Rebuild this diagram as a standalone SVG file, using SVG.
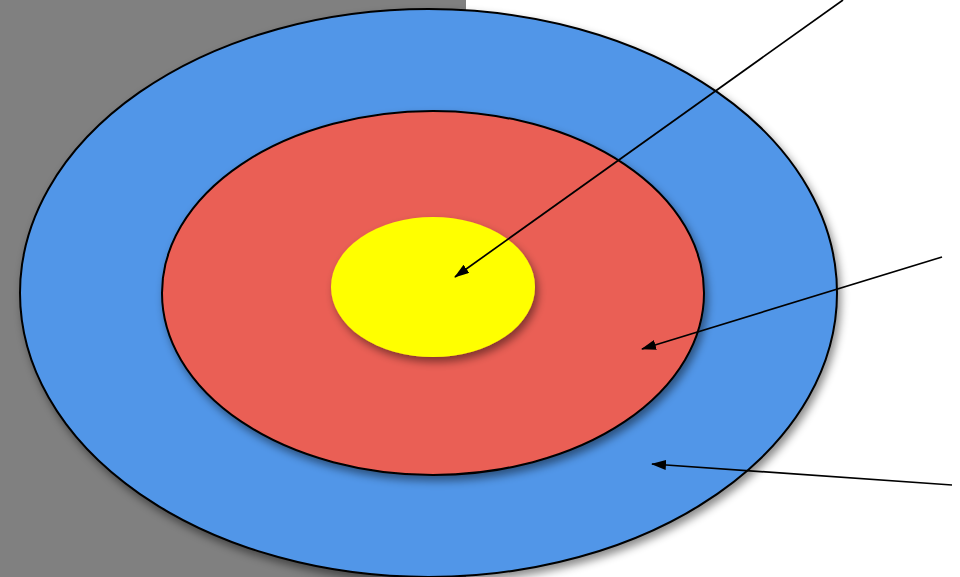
<svg xmlns="http://www.w3.org/2000/svg" width="960" height="577" viewBox="0 0 960 577">
<style>
.ring{stroke:#000;stroke-width:2}
.conn{stroke:#000;stroke-width:1.7;fill:none;marker-end:url(#ah)}
</style>
<defs>
<filter id="sh" x="-20%" y="-20%" width="140%" height="140%">
<feDropShadow dx="3" dy="5" stdDeviation="4" flood-color="#000" flood-opacity="0.45"/>
</filter>
<marker id="ah" viewBox="0 0 15 10" refX="14" refY="5" markerWidth="15" markerHeight="10" markerUnits="userSpaceOnUse" orient="auto">
<path d="M0,0 L15,5 L0,10 Z" fill="#000"/>
</marker>
</defs>
<rect x="0" y="0" width="466" height="577" fill="#808080"/>
<g id="outer"><ellipse class="ring" cx="428.5" cy="293" rx="408.5" ry="284" fill="#5196e8" filter="url(#sh)"/></g>
<g id="middle"><ellipse class="ring" cx="433" cy="293" rx="271" ry="182" fill="#ea5e55" filter="url(#sh)"/></g>
<g id="center"><ellipse cx="433" cy="287" rx="102" ry="70" fill="#ffff00" filter="url(#sh)"/></g>
<g id="connectors">
<line class="conn" x1="843" y1="0" x2="455" y2="277"/>
<line class="conn" x1="942" y1="257" x2="642" y2="349"/>
<line class="conn" x1="952" y1="485" x2="652" y2="464"/>
</g>
</svg>
